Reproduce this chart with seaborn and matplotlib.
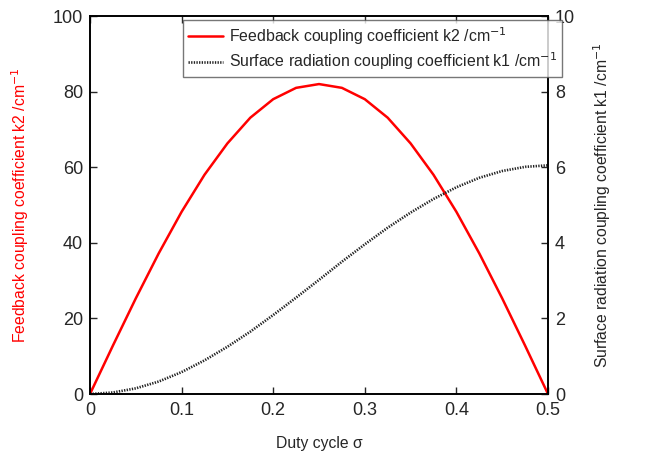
import numpy as np
import pandas as pd
import matplotlib
matplotlib.use('Agg')
import matplotlib.pyplot as plt
import seaborn as sns

sns.set_style('ticks')
plt.rcParams['font.family'] = ['Liberation Sans', 'DejaVu Sans']
plt.rcParams['xtick.direction'] = 'in'
plt.rcParams['ytick.direction'] = 'in'

# du lieu doc tu hinh
duty = [0, 0.025, 0.05, 0.075, 0.1, 0.125, 0.15, 0.175, 0.2, 0.225, 0.25,
        0.275, 0.3, 0.325, 0.35, 0.375, 0.4, 0.425, 0.45, 0.475, 0.5]
k2 = [0, 12.8, 25.3, 37.2, 48.2, 58.0, 66.3, 73.1, 78.0, 81.0, 82.0,
      81.0, 78.0, 73.1, 66.3, 58.0, 48.2, 37.2, 25.3, 12.8, 0]
k1 = [0, 0.04, 0.15, 0.33, 0.58, 0.89, 1.25, 1.65, 2.09, 2.55, 3.02,
      3.50, 3.96, 4.40, 4.80, 5.16, 5.47, 5.72, 5.90, 6.01, 6.05]

df = pd.DataFrame({'duty': duty, 'k2': k2, 'k1': k1})

fig = plt.figure(figsize=(6.46, 4.58), dpi=100)
ax = fig.add_axes([0.1393, 0.1397, 0.709, 0.8253])
ax2 = ax.twinx()

sns.lineplot(data=df, x='duty', y='k2', ax=ax, color='red', linewidth=1.8,
             label='Feedback coupling coefficient k2 /cm$^{-1}$', legend=False)
sns.lineplot(data=df, x='duty', y='k1', ax=ax2, color='#222222', linewidth=1.9,
             linestyle=(0, (0.5, 0.5)),
             label='Surface radiation coupling coefficient k1 /cm$^{-1}$', legend=False)

ax.set_xlim(0, 0.5)
ax.set_ylim(0, 100)
ax2.set_ylim(0, 10)
ax.set_xticks([0, 0.1, 0.2, 0.3, 0.4, 0.5])
ax.set_xticklabels(['0', '0.1', '0.2', '0.3', '0.4', '0.5'])
ax.set_yticks([0, 20, 40, 60, 80, 100])
ax2.set_yticks([0, 2, 4, 6, 8, 10])

ax.tick_params(axis='x', labelsize=13, length=5, width=1, top=True, pad=6)
ax.tick_params(axis='y', labelsize=13, length=5, width=1, right=False, pad=5)
ax2.tick_params(axis='y', labelsize=13, length=5, width=1, pad=5)

ax.set_xlabel('Duty cycle σ', fontsize=11.3, labelpad=12)
ax.set_ylabel('Feedback coupling coefficient k2 /cm$^{-1}$', fontsize=11.3,
              color='red', labelpad=16)
ax2.set_ylabel('Surface radiation coupling coefficient k1 /cm$^{-1}$', fontsize=11.3,
               labelpad=12)

for a in (ax, ax2):
    for s in a.spines.values():
        s.set_linewidth(1.2)
        s.set_color('black')

h1, l1 = ax.get_legend_handles_labels()
h2, l2 = ax2.get_legend_handles_labels()
leg = fig.legend(h1 + h2, l1 + l2, loc='upper right',
                 bbox_to_anchor=(0.870, 0.956), fontsize=11.4,
                 frameon=True, fancybox=False, edgecolor='#555555',
                 handlelength=2.2, handletextpad=0.4, borderpad=0.3,
                 labelspacing=0.25, borderaxespad=0)
leg.get_frame().set_linewidth(1.0)

fig.savefig('out.png', dpi=100)
